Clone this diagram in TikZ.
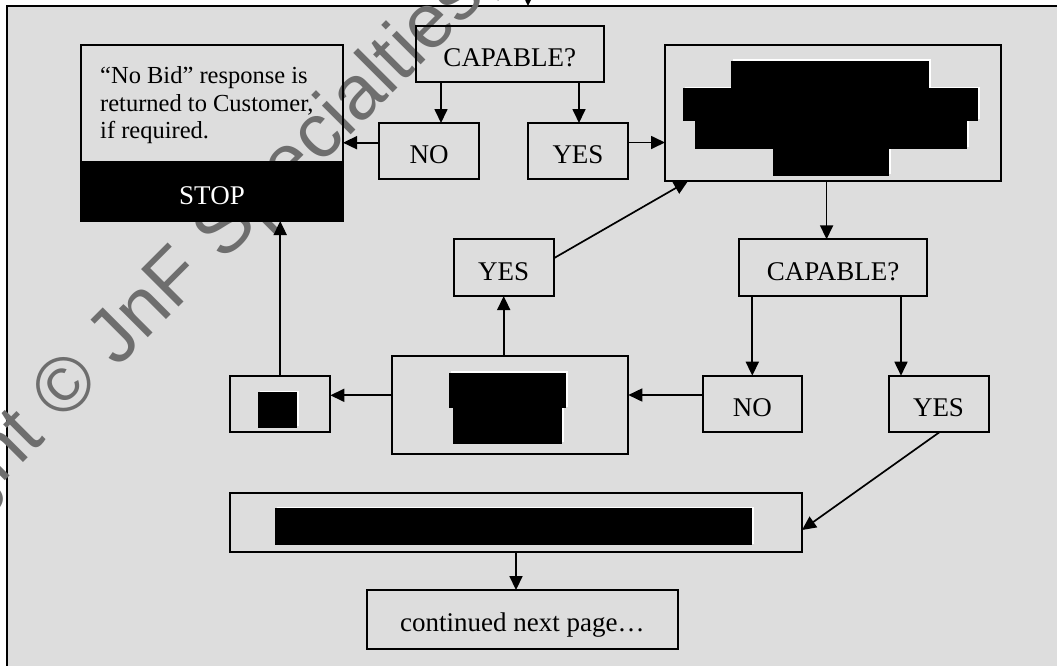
\documentclass[tikz,border=0pt]{standalone}
\usepackage{fontspec}
\setmainfont{Liberation Serif}
\newfontfamily\wmfont{Liberation Sans}
\usetikzlibrary{arrows.meta}
\definecolor{panel}{HTML}{DDDDDD}
\definecolor{wmgray}{HTML}{6E6E6E}
\newcommand\lblsize{\fontsize{27}{30}\selectfont}
\newcommand\notesize{\fontsize{24.5}{27.5}\selectfont}
\begin{document}
\begin{tikzpicture}[x=1pt,y=-1pt,
  box/.style={draw=black, line width=2pt, inner sep=0pt, outer sep=0pt,
    align=center, font=\lblsize, text height=25pt, text depth=0pt},
  arr/.style={line width=1.7pt, -{Triangle[length=14pt,width=13pt]}},
  redact/.style={fill=black},
  redactedge/.style={fill=white, xshift=1.5pt, yshift=1.5pt}
]
\useasboundingbox (0,0) rectangle (1057,665);

% page panel and its frame
\fill[panel] (6.7,6) rectangle (1065,675);
\draw[line width=2.2pt] (1065,6) -- (6.7,6) -- (6.7,675);

% copyright watermark behind the chart
\node[font={\wmfont\fontsize{77}{77}\selectfont}, text=wmgray, rotate=45,
  anchor=base west, inner sep=0pt] (wm) at (-186,672)
  {Copyright © JnF Specialties,};

% boxes
\node[box, minimum width=262pt, minimum height=176pt] (stop) at (212,133) {};
\node[box, minimum width=187.5pt, minimum height=56.2pt] (cap1) at (509.75,53.6) {CAPABLE?};
\node[box, minimum width=100pt, minimum height=56pt] (no1) at (429,151) {NO};
\node[box, minimum width=100pt, minimum height=56pt] (yes1) at (578,151) {YES};
\node[box, minimum width=336pt, minimum height=136pt] (big) at (833,113) {};
\node[box, minimum width=100pt, minimum height=56.7pt] (yes2) at (503.7,267.7) {YES};
\node[box, minimum width=187.3pt, minimum height=57pt] (cap2) at (833,267.8) {CAPABLE?};
\node[box, minimum width=99.7pt, minimum height=56.6pt] (no2) at (752.4,404) {NO};
\node[box, minimum width=100pt, minimum height=56.6pt] (yes3) at (938.5,404) {YES};
\node[box, minimum width=236.6pt, minimum height=98pt] (mid) at (510,405) {};
\node[box, minimum width=100.3pt, minimum height=56.3pt] (small) at (280.2,404.2) {};
\node[box, minimum width=572pt, minimum height=59pt] (wide) at (516,522) {};
\node[box, minimum width=311.3pt, minimum height=58.7pt] (cont) at (522.4,619.4) {continued next page…};

% stop box: note and black STOP band
\fill[black] (stop.south west) rectangle (stop.east |- 0,161);
\node[font=\notesize, anchor=north west, align=left, inner sep=0pt]
  (stopnote) at (100,66.6)
  {“No Bid” response is\\returned to Customer,\\if required.};
\node[font=\lblsize, text=white, anchor=base, inner sep=0pt] (stoptext) at (212,204) {STOP};

% blacked-out text blocks
\foreach \style in {redactedge,redact}{
  \fill[\style] (731,60.7) rectangle (929.3,88.3);
  \fill[\style] (683,88.3) rectangle (978.3,120.7);
  \fill[\style] (695,120.7) rectangle (967,148.7);
  \fill[\style] (773,148.7) rectangle (889.3,175.7);
  \fill[\style] (449.4,372.7) rectangle (566.3,408.3);
  \fill[\style] (452.8,408.3) rectangle (562.1,443.7);
  \fill[\style] (258.3,392) rectangle (297,427.7);
  \fill[\style] (275,508.3) rectangle (752,545);
}

% connectors
\coordinate (prev) at (528,-20);
\coordinate (entry) at (528,6);
\draw[arr] (prev) -- (entry);
\draw[arr] (cap1.south -| 441,0) -- (no1.north -| 441,0);
\draw[arr] (cap1.south -| 579,0) -- (yes1.north -| 579,0);
\draw[arr] (no1.west |- 0,142.7) -- (stop.east |- 0,142.7);
\draw[arr] (yes1.east |- 0,142.5) -- (big.west |- 0,142.5);
\draw[arr] (big.south -| 826.6,0) -- (cap2.north -| 826.6,0);
\draw[arr] (yes2.east |- 0,258.3) -- (big.south -| 688,0);
\draw[arr] (cap2.south -| 752.3,0) -- (no2.north -| 752.3,0);
\draw[arr] (cap2.south -| 901,0) -- (yes3.north -| 901,0);
\draw[arr] (no2.west |- 0,395) -- (mid.east |- 0,395);
\draw[arr] (mid.north -| yes2.south) -- (yes2.south);
\draw[arr] (mid.west |- 0,395.3) -- (small.east |- 0,395.3);
\draw[arr] (small.north) -- (stop.south -| small.north);
\draw[arr] (yes3.south -| 939.3,0) -- (wide.east |- 0,530);
\draw[arr] (wide.south) -- (cont.north -| wide.south);
\end{tikzpicture}
\end{document}
